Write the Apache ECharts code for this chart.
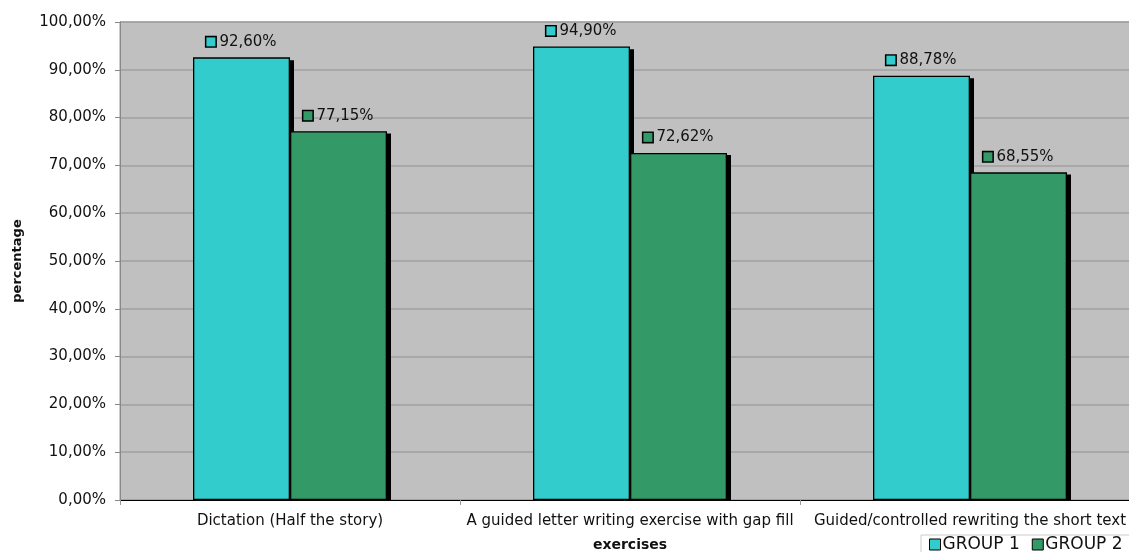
<!DOCTYPE html>
<html>
<head>
<meta charset="utf-8">
<script src="https://cdn.jsdelivr.net/npm/echarts@6/dist/echarts.min.js"></script>
<style>
  html, body { margin: 0; padding: 0; background: #fff; }
  #main { width: 1129px; height: 552px; }
</style>
</head>
<body>
<div id="main"></div>
<script>
// exercises and results
var categories = ['Dictation (Half the story)', 'A guided letter writing exercise with gap fill', 'Guided/controlled rewriting the short text']
var group1 = [92.60, 94.90, 88.78]
var group2 = [77.15, 72.62, 68.55]
var seriesNames = ['GROUP 1', 'GROUP 2']
var colors = ['#33CCCC', '#339966']

var font = 'DejaVu Sans'
var pct = function (v) { return v.toFixed(2).replace('.', ',') + '%' }

var makeSeries = function (name, data, color) {
  return {
    name: name,
    type: 'bar',
    data: data,
    z: 3,
    barWidth: 97,
    barGap: '0%',
    itemStyle: { color: color, borderColor: '#000', borderWidth: 1.3 },
    label: {
      show: true,
      position: 'top',
      distance: 8,
      formatter: function (p) { return '{k|}{v|' + pct(p.value) + '}' },
      rich: {
        k: { width: 9, height: 9, backgroundColor: color, borderColor: '#000', borderWidth: 1.5 },
        v: { fontFamily: font, fontSize: 15, color: '#111', padding: [0, 0, 0, 4] }
      }
    }
  }
}

// black drop shadow of each bar, drawn in a twin grid shifted right/down
var makeShadow = function (data) {
  return {
    type: 'bar',
    data: data,
    xAxisIndex: 1,
    yAxisIndex: 1,
    z: 1,
    barWidth: 97,
    barGap: '0%',
    silent: true,
    itemStyle: { color: '#000' }
  }
}

var chart = echarts.init(document.getElementById('main'))
chart.setOption({
  animation: false,
  textStyle: { fontFamily: font },
  grid: [
    { left: 120, top: 22, bottom: 52, width: 1020, outerBoundsMode: 'none', containLabel: false, show: true, backgroundColor: '#C0C0C0', borderColor: '#999', borderWidth: 1 },
    { left: 124, top: 25, bottom: 52, width: 1020, outerBoundsMode: 'none', containLabel: false }
  ],
  legend: {
    data: seriesNames,
    left: 921,
    top: 535,
    width: 300,
    orient: 'horizontal',
    icon: 'rect',
    itemWidth: 11,
    itemHeight: 11,
    itemGap: 12,
    padding: [1, 8, 4, 8],
    backgroundColor: '#fff',
    borderColor: '#ccc',
    borderWidth: 1,
    itemStyle: { borderColor: '#000', borderWidth: 1 },
    textStyle: { fontFamily: font, fontSize: 17, color: '#111', padding: [0, 0, 0, -3] }
  },
  xAxis: [{
    type: 'category',
    data: categories,
    name: 'exercises',
    nameLocation: 'middle',
    nameGap: 38,
    nameTextStyle: { fontFamily: font, fontSize: 14, fontWeight: 'bold', color: '#111' },
    axisLine: { lineStyle: { color: '#000', width: 1 } },
    axisTick: { show: true, length: 5, lineStyle: { color: '#999' } },
    axisLabel: { fontFamily: font, fontSize: 15, color: '#111', margin: 14, interval: 0 }
  }, {
    type: 'category',
    gridIndex: 1,
    data: categories,
    axisLine: { show: false },
    axisTick: { show: false },
    axisLabel: { show: false }
  }],
  yAxis: [{
    type: 'value',
    min: 0,
    max: 100,
    interval: 10,
    name: 'percentage',
    nameLocation: 'middle',
    nameGap: 96,
    nameTextStyle: { fontFamily: font, fontSize: 13, fontWeight: 'bold', color: '#111' },
    axisLine: { show: true, lineStyle: { color: '#888' } },
    axisTick: { show: true, length: 5, lineStyle: { color: '#888' } },
    axisLabel: { fontFamily: font, fontSize: 15, color: '#111', margin: 14, formatter: function (v) { return pct(v) } },
    splitLine: { lineStyle: { color: '#A0A0A0', width: 1.5 } }
  }, {
    type: 'value',
    gridIndex: 1,
    min: 0,
    max: 100,
    interval: 10,
    axisLine: { show: false },
    axisTick: { show: false },
    axisLabel: { show: false },
    splitLine: { show: false }
  }],
  series: [
    makeShadow(group1),
    makeShadow(group2),
    makeSeries(seriesNames[0], group1, colors[0]),
    makeSeries(seriesNames[1], group2, colors[1])
  ]
})
</script>
</body>
</html>
